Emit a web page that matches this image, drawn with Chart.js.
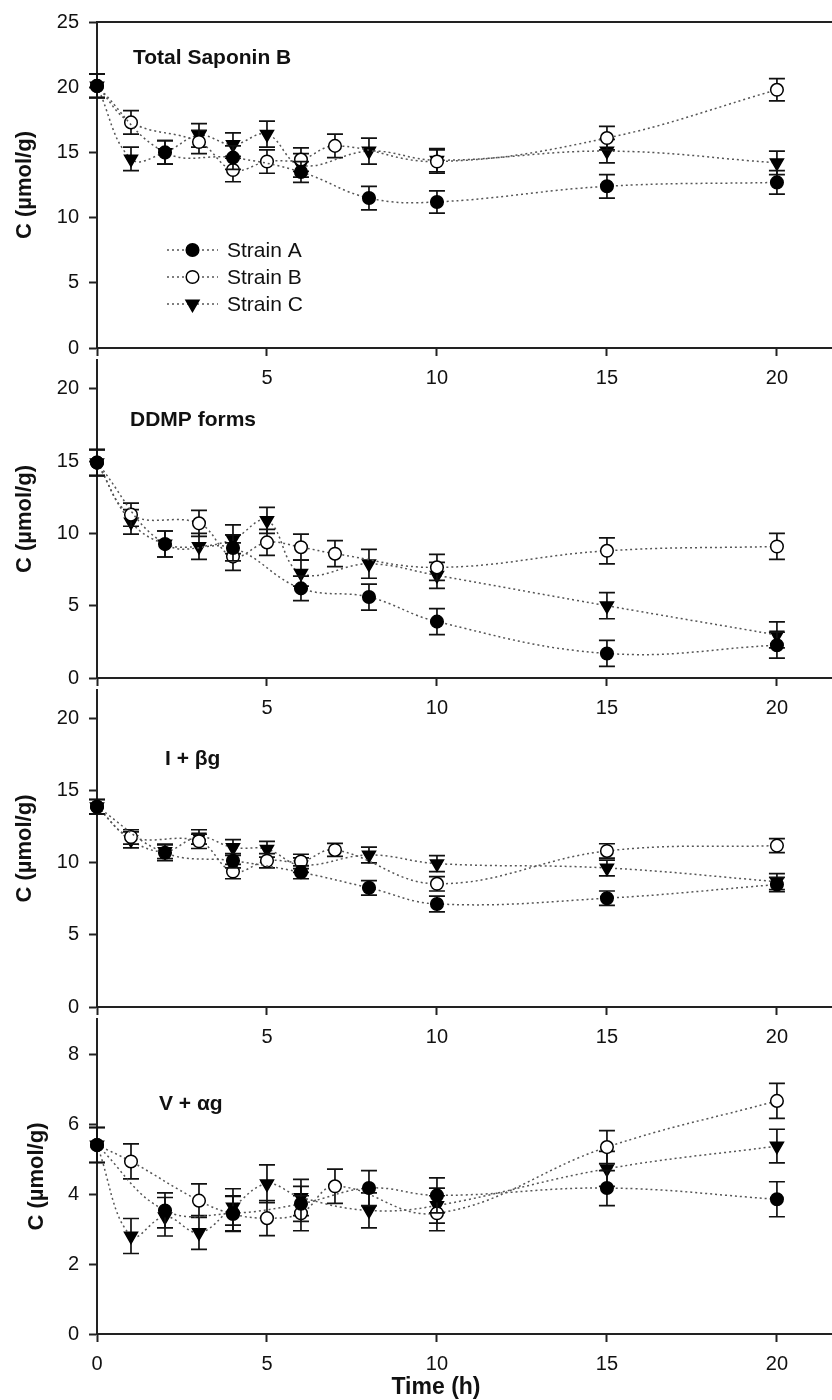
<!DOCTYPE html>
<html>
<head>
<meta charset="utf-8">
<title>Saponin B time course</title>
<script src="https://cdn.jsdelivr.net/npm/chart.js@4.4.1/dist/chart.umd.min.js"></script>
<style>
    body { margin: 0; background: #fff; }
    #wrap { position: relative; width: 832px; height: 1400px; overflow: hidden; }
    canvas { position: absolute; left: 0; }
</style>
</head>
<body>
<div id="wrap">
    <canvas id="p1" width="832" height="400" style="top:0px"></canvas>
    <canvas id="p2" width="832" height="392" style="top:338px"></canvas>
    <canvas id="p3" width="832" height="391" style="top:668px"></canvas>
    <canvas id="p4" width="832" height="403" style="top:997px"></canvas>
</div>
<script>
// Saponin B content of three strains over 20 h, four stacked panels
(function () {
    // --- Data ---

    const timeA = [0, 2, 4, 6, 8, 10, 15, 20];
    const timeB = [0, 1, 3, 4, 5, 6, 7, 10, 15, 20];
    const timeC = [0, 1, 2, 3, 4, 5, 6, 8, 10, 15, 20];

    const xTicks = [0, 5, 10, 15, 20];

    // Total Saponin B
    const totalA = [20.1, 15.0, 14.6, 13.5, 11.5, 11.2, 12.4, 12.7];
    const totalErrA = [0.9, 0.9, 0.9, 0.8, 0.9, 0.85, 0.9, 0.9];
    const totalB = [20.1, 17.3, 15.8, 13.65, 14.3, 14.45, 15.5, 14.3, 16.1, 19.8];
    const totalErrB = [0.9, 0.9, 0.9, 0.9, 0.9, 0.9, 0.9, 0.9, 0.9, 0.85];
    const totalC = [20.1, 14.5, 15.0, 16.3, 15.6, 16.4, 14.0, 15.1, 14.4, 15.1, 14.2];
    const totalErrC = [0.9, 0.9, 0.9, 0.9, 0.9, 1.0, 0.9, 1.0, 0.9, 0.9, 0.9];
    const totalTicks = [0, 5, 10, 15, 20, 25];

    // DDMP forms
    const ddmpA = [14.9, 9.27, 9.0, 6.2, 5.6, 3.9, 1.7, 2.27];
    const ddmpErrA = [0.9, 0.9, 0.9, 0.85, 0.9, 0.9, 0.9, 0.9];
    const ddmpB = [14.9, 11.3, 10.7, 8.4, 9.38, 9.05, 8.6, 7.65, 8.8, 9.1];
    const ddmpErrB = [0.9, 0.8, 0.9, 0.95, 0.9, 0.9, 0.9, 0.9, 0.9, 0.9];
    const ddmpC = [14.9, 10.8, 9.27, 9.1, 9.6, 10.9, 7.25, 7.9, 7.1, 5.0, 2.98];
    const ddmpErrC = [0.9, 0.85, 0.9, 0.9, 1.0, 0.9, 0.9, 1.0, 0.9, 0.9, 0.9];
    const ddmpTicks = [0, 5, 10, 15, 20];

    // I + beta g
    const betaA = [13.9, 10.7, 10.15, 9.35, 8.27, 7.15, 7.55, 8.5];
    const betaErrA = [0.5, 0.55, 0.5, 0.45, 0.5, 0.55, 0.5, 0.5];
    const betaB = [13.9, 11.8, 11.5, 9.4, 10.15, 10.1, 10.9, 8.55, 10.83, 11.2];
    const betaErrB = [0.5, 0.5, 0.5, 0.5, 0.5, 0.5, 0.45, 0.5, 0.5, 0.48];
    const betaC = [13.9, 11.6, 10.8, 11.8, 11.07, 10.95, 9.85, 10.55, 9.95, 9.65, 8.7];
    const betaErrC = [0.5, 0.55, 0.5, 0.5, 0.55, 0.55, 0.5, 0.55, 0.55, 0.55, 0.55];
    const betaTicks = [0, 5, 10, 15, 20];

    // V + alpha g
    const alphaA = [5.4, 3.53, 3.45, 3.72, 4.17, 3.96, 4.17, 3.85];
    const alphaErrA = [0.5, 0.5, 0.5, 0.5, 0.5, 0.5, 0.5, 0.5];
    const alphaB = [5.4, 4.93, 3.81, 3.43, 3.31, 3.45, 4.22, 3.45, 5.34, 6.66];
    const alphaErrB = [0.5, 0.5, 0.48, 0.5, 0.5, 0.5, 0.49, 0.5, 0.47, 0.5];
    const alphaC = [5.4, 2.8, 3.35, 2.9, 3.63, 4.29, 3.9, 3.53, 3.67, 4.72, 5.37];
    const alphaErrC = [0.5, 0.5, 0.55, 0.48, 0.52, 0.54, 0.52, 0.5, 0.5, 0.5, 0.48];
    const alphaTicks = [0, 2, 4, 6, 8];

    const FONT = '"Liberation Sans", Arial, sans-serif';
    const INK = '#111';
    const AXIS = '#222';
    const LINE = '#555';

    Chart.defaults.font.family = FONT;
    Chart.defaults.color = INK;

    // --- Marker styles ---

    const STYLE = {
        A: { pointStyle: 'circle', pointRadius: 6.3, pointRotation: 0, pointBackgroundColor: '#000' },
        B: { pointStyle: 'circle', pointRadius: 6.3, pointRotation: 0, pointBackgroundColor: '#fff' },
        C: { pointStyle: 'triangle', pointRadius: 7.5, pointRotation: 180, pointBackgroundColor: '#000' }
    };

    function series(label, key, times, values, errors) {
        return Object.assign({
            label: label,
            data: times.map((t, i) => ({ x: t, y: values[i] })),
            errors: errors,
            borderColor: LINE,
            borderWidth: 1.5,
            borderDash: [2, 3],
            tension: 0.4,
            fill: false,
            clip: false,
            pointBorderColor: '#000',
            pointBorderWidth: 1.5
        }, STYLE[key]);
    }

    // --- Plugins ---

    const errorBars = {
        id: 'errorBars',
        beforeDatasetDraw(chart, args) {
            const ds = chart.data.datasets[args.index];
            if (!ds.errors) return;
            const xs = chart.scales.x, ys = chart.scales.y, ctx = chart.ctx;
            ctx.save();
            ctx.strokeStyle = INK;
            ctx.lineWidth = 1.7;
            ds.data.forEach(function (p, i) {
                const e = ds.errors[i];
                const px = xs.getPixelForValue(p.x);
                const top = ys.getPixelForValue(p.y + e);
                const bot = ys.getPixelForValue(p.y - e);
                ctx.beginPath();
                ctx.moveTo(px, top); ctx.lineTo(px, bot);
                ctx.moveTo(px - 8, top); ctx.lineTo(px + 8, top);
                ctx.moveTo(px - 8, bot); ctx.lineTo(px + 8, bot);
                ctx.stroke();
            });
            ctx.restore();
        }
    };

    const panelText = {
        id: 'panelText',
        afterDraw(chart, args, opts) {
            const ctx = chart.ctx;
            (opts.items || []).forEach(function (t) {
                ctx.save();
                ctx.font = t.font;
                ctx.fillStyle = INK;
                ctx.textAlign = t.align || 'left';
                ctx.textBaseline = 'middle';
                ctx.fillText(t.text, t.x, t.y);
                ctx.restore();
            });
        }
    };

    function drawMarker(ctx, st, x, y) {
        const r = st.pointRadius;
        ctx.beginPath();
        if (st.pointStyle === 'triangle') {
            ctx.moveTo(x, y + r);
            ctx.lineTo(x - r * 0.866, y - r / 2);
            ctx.lineTo(x + r * 0.866, y - r / 2);
            ctx.closePath();
        } else {
            ctx.arc(x, y, r, 0, Math.PI * 2);
        }
        ctx.fillStyle = st.pointBackgroundColor;
        ctx.fill();
        ctx.lineWidth = 1.5;
        ctx.strokeStyle = '#000';
        ctx.stroke();
    }

    const strainLegend = {
        id: 'strainLegend',
        afterDraw(chart, args, opts) {
            if (!opts.rows) return;
            const ctx = chart.ctx;
            opts.rows.forEach(function (row) {
                ctx.save();
                ctx.strokeStyle = LINE;
                ctx.lineWidth = 1.5;
                ctx.setLineDash([2, 3]);
                ctx.beginPath();
                ctx.moveTo(opts.x0, row.y);
                ctx.lineTo(opts.x1, row.y);
                ctx.stroke();
                ctx.setLineDash([]);
                drawMarker(ctx, STYLE[row.key], (opts.x0 + opts.x1) / 2, row.y);
                ctx.font = '21px ' + FONT;
                ctx.fillStyle = INK;
                ctx.textBaseline = 'middle';
                ctx.fillText(row.label, opts.textX, row.y + 1);
                ctx.restore();
            });
        }
    };

    Chart.register(errorBars, panelText, strainLegend);

    // --- Panels ---

    function noSidePadding(s) {
        s.paddingLeft = 0;
        s.paddingRight = 0;
    }

    function makePanel(p) {
        const scales = {
            x: {
                type: 'linear',
                min: 0,
                max: 21.62,
                afterBuildTicks: s => { s.ticks = xTicks.map(v => ({ value: v })); },
                afterFit: s => { s.height = p.xHeight; noSidePadding(s); },
                grid: { drawOnChartArea: false, tickLength: 8, tickWidth: 2, tickColor: AXIS },
                border: { display: true, color: AXIS, width: 2 },
                ticks: {
                    padding: 10,
                    font: { size: 20 },
                    color: INK,
                    maxRotation: 0,
                    callback: v => (v === 0 && !p.showZero) ? '' : String(v)
                }
            },
            y: {
                type: 'linear',
                min: 0,
                max: p.yMax,
                afterBuildTicks: s => { s.ticks = p.yTicks.map(v => ({ value: v })); },
                afterFit: s => { s.width = 97; },
                grid: { drawOnChartArea: false, tickLength: 8, tickWidth: 2, tickColor: AXIS },
                border: { display: true, color: AXIS, width: 2 },
                ticks: { padding: 10, font: { size: 20 }, color: INK },
                title: {
                    display: true,
                    text: 'C (µmol/g)',
                    font: { size: 22, weight: 'bold' },
                    color: INK,
                    padding: { top: p.titlePad, bottom: 0 }
                }
            }
        };
        if (p.topBorder) {
            scales.xTop = {
                type: 'linear',
                position: 'top',
                min: 0,
                max: 21.62,
                afterFit: s => { s.height = 0; noSidePadding(s); },
                grid: { display: false },
                ticks: { display: false },
                border: { display: true, color: AXIS, width: 2 }
            };
        }

        return new Chart(document.getElementById(p.id), {
            type: 'line',
            data: { datasets: p.datasets },
            options: {
                responsive: false,
                animation: false,
                devicePixelRatio: 1,
                layout: { autoPadding: false, padding: { top: p.padTop, right: 0, bottom: 0, left: 0 } },
                scales: scales,
                plugins: {
                    legend: { display: false },
                    tooltip: { enabled: false },
                    panelText: { items: p.texts },
                    strainLegend: p.legend || {}
                }
            }
        });
    }

    const TITLE_FONT = 'bold 21px ' + FONT;

    makePanel({
        id: 'p1', yMax: 25, yTicks: totalTicks, padTop: 20, xHeight: 52, titlePad: 12, topBorder: true,
        datasets: [
            series('Strain A', 'A', timeA, totalA, totalErrA),
            series('Strain B', 'B', timeB, totalB, totalErrB),
            series('Strain C', 'C', timeC, totalC, totalErrC)
        ],
        texts: [{ text: 'Total Saponin B', x: 133, y: 58, font: TITLE_FONT }],
        legend: {
            x0: 167, x1: 218, textX: 227,
            rows: [
                { key: 'A', label: 'Strain A', y: 250 },
                { key: 'B', label: 'Strain B', y: 277 },
                { key: 'C', label: 'Strain C', y: 304 }
            ]
        }
    });

    makePanel({
        id: 'p2', yMax: 22, yTicks: ddmpTicks, padTop: 10, xHeight: 52, titlePad: 12,
        datasets: [
            series('Strain A', 'A', timeA, ddmpA, ddmpErrA),
            series('Strain B', 'B', timeB, ddmpB, ddmpErrB),
            series('Strain C', 'C', timeC, ddmpC, ddmpErrC)
        ],
        texts: [{ text: 'DDMP forms', x: 130, y: 82, font: TITLE_FONT }]
    });

    makePanel({
        id: 'p3', yMax: 22, yTicks: betaTicks, padTop: 10, xHeight: 52, titlePad: 12,
        datasets: [
            series('Strain A', 'A', timeA, betaA, betaErrA),
            series('Strain B', 'B', timeB, betaB, betaErrB),
            series('Strain C', 'C', timeC, betaC, betaErrC)
        ],
        texts: [{ text: 'I + βg', x: 165, y: 91, font: TITLE_FONT }]
    });

    makePanel({
        id: 'p4', yMax: 9, yTicks: alphaTicks, padTop: 10, xHeight: 66, titlePad: 24, showZero: true,
        datasets: [
            series('Strain A', 'A', timeA, alphaA, alphaErrA),
            series('Strain B', 'B', timeB, alphaB, alphaErrB),
            series('Strain C', 'C', timeC, alphaC, alphaErrC)
        ],
        texts: [
            { text: 'V + αg', x: 159, y: 107, font: TITLE_FONT },
            { text: 'Time (h)', x: 436, y: 391, font: 'bold 23px ' + FONT, align: 'center' }
        ]
    });
})();
</script>
</body>
</html>
